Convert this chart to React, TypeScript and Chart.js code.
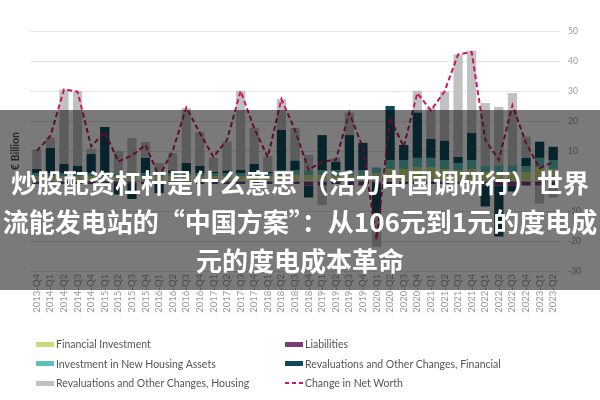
import React, { useEffect, useRef } from 'react';
import { Chart, registerables } from 'chart.js';

Chart.register(...registerables);

const categories = [
  '2013-Q4',
  '2014-Q1', '2014-Q2', '2014-Q3', '2014-Q4',
  '2015-Q1', '2015-Q2', '2015-Q3', '2015-Q4',
  '2016-Q1', '2016-Q2', '2016-Q3', '2016-Q4',
  '2017-Q1', '2017-Q2', '2017-Q3', '2017-Q4',
  '2018-Q1', '2018-Q2', '2018-Q3', '2018-Q4',
  '2019-Q1', '2019-Q2', '2019-Q3', '2019-Q4',
  '2020-Q1', '2020-Q2', '2020-Q3', '2020-Q4',
  '2021-Q1', '2021-Q2', '2021-Q3', '2021-Q4',
  '2022-Q1', '2022-Q2', '2022-Q3', '2022-Q4',
  '2023-Q1', '2023-Q2',
];

const financialInvestment = [
  1.5, 1.5, 1.5, 1.5, 1.5, 1.5, 1.5, 1.5, 1.5, 1.5, 1.5, 1.5, 1.5, 1.5, 1.5, 1.5, 1.5, 1.5, 2, 2,
  2, 2, 2, 2, 2, 2.5, 4, 4, 4.5, 4.5, 4, 3.5, 4, 3, 3, 3, 3, 4.5, 4,
];
const liabilities = [
  -1, -1, -1, -1, -1, -1, -1, -1, -1, -1, -1, -1, -1, -1, -1, -1, -1, -1, -1, -1,
  -1.5, -1.5, -1, -1.5, -1.5, -1, -1.5, -1, -1, -1, -1, -1, -1, -1.5, -1.5, -1.5, -1.5, -1.5, -1.5,
];
const newHousingInvestment = [
  1, 1, 1, 1, 1, 1, 1, 1, 1, 1, 1, 1, 1, 1, 1, 1, 1, 1, 1.5, 1.5,
  1.5, 1.5, 1.5, 1.5, 1.5, 2, 3, 3, 3.2, 3.2, 3, 2.5, 3, 2, 2, 2.5, 2, 3.2, 3,
];
const revaluationsFinancial = [
  1.5, 8.5, 3.2, 2.5, 6.5, 15.5, -3.5, -5, 5.2, -3, 1, 3.5, 2.5, 0.5, 1, 1.2, 3.2, 0.5, 13.5, 3.3,
  -4, 11.8, 2.9, 11.8, 9.2, -10, 18, 5, 15.1, 6.3, 6.4, 2, 9, -7, -17, -2, 2.7, 5.4, 4.4,
];
const revaluationsHousing = [
  6.5, 3.5, 24.8, 25, 1.7, 0, 7.5, 11.8, 5.3, 3.5, 5.8, 18.3, 11.3, 4.7, 9.6, 26.4, 12, 5.2, 10.3, 10.9,
  5.2, -6.5, 1.3, 7.5, 0, -11, 0, 0, 7.3, 10.3, 16.4, 34.2, 27.4, 21, 19.7, 23.8, 7.1, -6, -4,
];
const changeInNetWorth = [
  10, 15, 30.5, 29.8, 11.5, 16.4, 6.5, 8.5, 12, 1.5, 10, 24.5, 16, 8, 13.7, 30, 17.5, 8, 27.3, 17,
  3.7, 6.5, 7, 22.7, 11, -19.5, 21, 11.4, 29.3, 23.5, 29.8, 42.2, 43, 13.7, 7, 25.3, 12.6, 4.3, 6.3,
];

const yMin = -30;
const yMax = 50;
const yStep = 10;
const yTitle = '€ Billion';

const seriesNames = [
  'Financial Investment',
  'Liabilities',
  'Investment in New Housing Assets',
  'Revaluations and Other Changes, Financial',
  'Revaluations and Other Changes, Housing',
  'Change in Net Worth',
];
const seriesColors = ['#c9db78', '#7a3d7c', '#5dc0bd', '#0f4a5c', '#c1c1c1', '#c8195f'];

const overlayLines = [
  '炒股配资杠杆是什么意思 （活力中国调研行）世界',
  '流能发电站的“中国方案”：从106元到1元的度电成',
  '元的度电成本革命',
];

export default function App() {
  const canvasRef = useRef<HTMLCanvasElement | null>(null);

  useEffect(() => {
    if (!canvasRef.current) return;
    const barSets = [financialInvestment, liabilities, newHousingInvestment, revaluationsFinancial, revaluationsHousing];
    const datasets: any[] = barSets.map((d, i) => ({
      type: 'bar',
      label: seriesNames[i],
      data: d,
      backgroundColor: seriesColors[i],
      borderWidth: 0,
      stack: 'bars',
      order: 1,
      categoryPercentage: 0.8,
      barPercentage: 0.85,
    }));
    datasets.push({
      type: 'line',
      label: seriesNames[5],
      data: changeInNetWorth,
      borderColor: seriesColors[5],
      borderWidth: 2,
      borderDash: [5, 3],
      pointRadius: 0,
      fill: false,
      tension: 0,
      stack: 'line',
      order: 0,
    });

    const chart = new Chart(canvasRef.current, {
      type: 'bar',
      data: { labels: categories, datasets },
      options: {
        responsive: false,
        animation: false,
        layout: { padding: { top: 31, left: 0, right: 0, bottom: 0 } },
        plugins: { legend: { display: false }, tooltip: { enabled: false } },
        scales: {
          x: {
            stacked: true,
            grid: { display: false, drawTicks: false },
            border: { display: false },
            ticks: {
              autoSkip: false,
              minRotation: 90,
              maxRotation: 90,
              padding: 3,
              color: '#9a9a9a',
              font: { family: 'Lato', size: 9.5 },
            },
            afterFit: (s: any) => { s.height = 129; },
          },
          y: {
            type: 'linear',
            position: 'right',
            stacked: true,
            min: yMin,
            max: yMax,
            grid: { color: '#e6e6e6', lineWidth: 1, drawTicks: false },
            border: { display: false },
            ticks: {
              stepSize: yStep,
              padding: 8,
              color: '#9a9a9a',
              font: { family: 'Lato', size: 8.5 },
            },
            afterFit: (s: any) => { s.width = 40; },
          },
          yL: {
            type: 'linear',
            position: 'left',
            grid: { display: false, drawTicks: false },
            border: { display: false },
            ticks: { display: false },
            title: {
              display: true,
              text: yTitle,
              color: '#555555',
              font: { family: 'Lato', size: 10.5, weight: 'bold' },
              padding: { top: 9, bottom: 0 },
            },
            afterFit: (s: any) => { s.width = 30; },
          },
        },
      } as any,
    });
    return () => chart.destroy();
  }, []);

  const legendOrder = [
    { idx: 0, col: 0, row: 0 },
    { idx: 1, col: 1, row: 0 },
    { idx: 2, col: 0, row: 1 },
    { idx: 3, col: 1, row: 1 },
    { idx: 4, col: 0, row: 2 },
    { idx: 5, col: 1, row: 2 },
  ];

  return (
    <div style={{ position: 'fixed', left: 0, top: 0, width: 600, height: 400, background: '#fff', overflow: 'hidden' }}>
      <canvas ref={canvasRef} width={600} height={400} style={{ position: 'absolute', left: 0, top: 0, width: 600, height: 400 }} />
      {legendOrder.map(({ idx, col, row }) => (
        <div
          key={idx}
          style={{
            position: 'absolute',
            left: col === 0 ? 36 : 285,
            top: 344 + row * 19.5 - 8,
            height: 16,
            display: 'flex',
            alignItems: 'center',
            fontFamily: 'Lato',
            fontSize: 10.5,
            color: '#555',
            whiteSpace: 'nowrap',
          }}
        >
          {idx === 5 ? (
            <div style={{ width: 18, height: 2, display: 'flex', justifyContent: 'space-between' }}>
              <div style={{ width: 4, height: 2, background: seriesColors[5] }} />
              <div style={{ width: 4, height: 2, background: seriesColors[5] }} />
              <div style={{ width: 4, height: 2, background: seriesColors[5] }} />
            </div>
          ) : (
            <div style={{ width: 18, height: 5, background: seriesColors[idx] }} />
          )}
          <span style={{ marginLeft: 2 }}>{seriesNames[idx]}</span>
        </div>
      ))}
      <div style={{ position: 'absolute', left: 0, top: 110, width: 600, height: 180, background: 'rgba(0,0,0,0.52)' }} />
      {overlayLines.map((t, i) => (
        <div
          key={i}
          style={{
            position: 'absolute',
            left: 0,
            top: [167, 206, 245][i],
            width: 600,
            height: 30,
            display: 'flex',
            justifyContent: 'center',
            alignItems: 'center',
            fontFamily: '"Noto Sans CJK SC", sans-serif',
            fontWeight: 700,
            fontSize: 26,
            lineHeight: '30px',
            color: '#fff',
            whiteSpace: 'nowrap',
          }}
        >
          {t}
        </div>
      ))}
    </div>
  );
}
